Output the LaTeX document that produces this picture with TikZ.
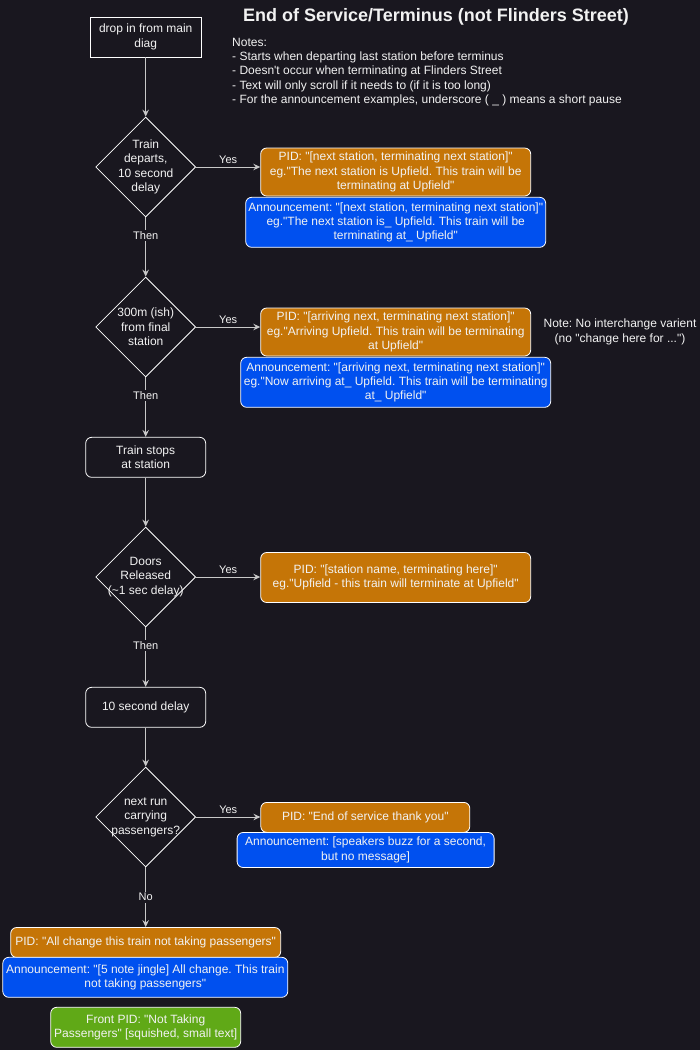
\documentclass[tikz,border=0pt]{standalone}
\usepackage{fontspec}
\setmainfont{Liberation Sans}
\newfontfamily\flowfont{Liberation Sans}
\usetikzlibrary{shapes.geometric,arrows.meta}
\frenchspacing

\definecolor{bgdark}{RGB}{25,23,31}
\definecolor{pidorange}{RGB}{197,117,7}
\definecolor{annblue}{RGB}{0,80,239}
\definecolor{frontgreen}{RGB}{96,169,23}
\definecolor{linegray}{RGB}{200,200,200}
\definecolor{txtwhite}{RGB}{242,242,242}

\begin{document}
\begin{tikzpicture}[x=1pt,y=1pt,yscale=-1,
  every node/.style={text=txtwhite,font=\flowfont\fontsize{12}{14.4}\selectfont},
  flowbox/.style={draw=white,line width=0.8pt,fill=bgdark,align=center,inner sep=1pt,minimum width=120,minimum height=40,rounded corners=6pt},
  decision/.style={diamond,draw=white,line width=0.8pt,fill=bgdark,minimum width=100,minimum height=100,inner sep=0pt},
  dtext/.style={align=center,inner sep=0pt},
  pidbox/.style={draw=white,line width=0.8pt,fill=pidorange,align=center,inner sep=1pt,rounded corners=6pt},
  annbox/.style={pidbox,fill=annblue},
  frontbox/.style={pidbox,fill=frontgreen},
  flowline/.style={draw=linegray,line width=1pt,-{Stealth[length=7pt,width=6.5pt,inset=2.5pt]}},
  edgetext/.style={font=\flowfont\fontsize{11}{13}\selectfont,fill=bgdark,inner sep=1.5pt}
]
%uncomment if require: \path (0,1050); %diagram is 700 wide and 1050 high

%Shape: Rectangle (background)
\fill[bgdark] (0,0) rectangle (700,1050);
\useasboundingbox (0,0) rectangle (700,1050);

% Text Node
\node[font=\flowfont\fontsize{18}{21.6}\selectfont\bfseries] (title) at (436,17) {End of Service/Terminus (not Flinders Street)};
% Text Node
\node[align=left,anchor=west,inner sep=0pt] (notes) at (232,72) {Notes:\\
- Starts when departing last station before terminus\\
- Doesn't occur when terminating at Flinders Street\\
- Text will only scroll if it needs to (if it is too long)\\
- For the announcement examples, underscore ( \_ ) means a short pause};
% Text Node
\node[align=center,inner sep=0pt] (novariant) at (620,332) {Note: No interchange varient\\(no "change here for ...")};

%Shape: Rectangle
\node[flowbox,rounded corners=0pt,minimum width=111] (drop) at (145.7,37) {drop in from main\\diag};

%Shape: Diamond
\node[decision,label={[dtext]center:{Train\\departs,\\10 second\\delay}}] (dep) at (145.7,167) {};
%Shape: Rectangle
\node[pidbox,minimum width=270,minimum height=48] (pidnext) at (395.7,172) {PID: "[next station, terminating next station]"\\eg."The next station is Upfield. This train will be\\terminating at Upfield"};
\node[annbox,minimum width=300,minimum height=50] (annnext) at (395.7,222.3) {Announcement: "[next station, terminating next station]"\\eg."The next station is\_ Upfield. This train will be\\terminating at\_ Upfield"};

%Shape: Diamond
\node[decision,label={[dtext]center:{300m (ish)\\from final\\station}}] (near) at (145.7,327) {};
%Shape: Rectangle
\node[pidbox,minimum width=270,minimum height=48] (pidarr) at (395.7,332) {PID: "[arriving next, terminating next station]"\\eg."Arriving Upfield. This train will be terminating\\at Upfield"};
\node[annbox,minimum width=310,minimum height=50] (annarr) at (395.7,382.3) {Announcement: "[arriving next, terminating next station]"\\eg."Now arriving at\_ Upfield. This train will be terminating\\at\_ Upfield"};

%Shape: Rectangle
\node[flowbox] (stops) at (145.7,457.3) {Train stops\\at station};

%Shape: Diamond
\node[decision,label={[dtext]center:{Doors\\Released\\(\textasciitilde1 sec delay)}}] (doors) at (145.7,577) {};
%Shape: Rectangle
\node[pidbox,minimum width=270,minimum height=50] (pidhere) at (395.7,577.5) {PID: "[station name, terminating here]"\\eg."Upfield - this train will terminate at Upfield"};

%Shape: Rectangle
\node[flowbox] (wait) at (145.7,707.3) {10 second delay};

%Shape: Diamond
\node[decision,label={[dtext]center:{next run\\carrying\\passengers?}}] (nextrun) at (145.7,817) {};
%Shape: Rectangle
\node[pidbox,minimum width=209,minimum height=30] (pidend) at (365.3,817.4) {PID: "End of service thank you"};
\node[annbox,minimum width=257,minimum height=35] (annend) at (365.6,850) {Announcement: [speakers buzz for a second,\\but no message]};

%Shape: Rectangle
\node[pidbox,minimum width=270,minimum height=30] (pidchange) at (145.7,942.5) {PID: "All change this train not taking passengers"};
\node[annbox,minimum width=285,minimum height=40] (annchange) at (145.3,977.3) {Announcement: "[5 note jingle] All change. This train\\not taking passengers"};
\node[frontbox,minimum width=190,minimum height=40] (front) at (145.7,1027.3) {Front PID: "Not Taking\\Passengers" [squished, small text]};

%Straight Lines
\draw[flowline] (drop) -- (dep);
\draw[flowline] (dep.east) -- node[edgetext,fill=none,above=1pt] (yesnext) {Yes} (dep.east -| pidnext.west);
\draw[flowline] (dep) -- node[edgetext,pos=0.3] (thennear) {Then} (near);
\draw[flowline] (near.east) -- node[edgetext,fill=none,above=1pt] (yesarr) {Yes} (near.east -| pidarr.west);
\draw[flowline] (near) -- node[edgetext,pos=0.3] (thenstop) {Then} (stops);
\draw[flowline] (stops) -- (doors);
\draw[flowline] (doors.east) -- node[edgetext,fill=none,above=1pt] (yeshere) {Yes} (doors.east -| pidhere.west);
\draw[flowline] (doors) -- node[edgetext,pos=0.3] (thenwait) {Then} (wait);
\draw[flowline] (wait) -- (nextrun);
\draw[flowline] (nextrun.east) -- node[edgetext,fill=none,above=1pt] (yesend) {Yes} (nextrun.east -| pidend.west);
\draw[flowline] (nextrun) -- node[edgetext] (nochange) {No} (pidchange);

\end{tikzpicture}
\end{document}
